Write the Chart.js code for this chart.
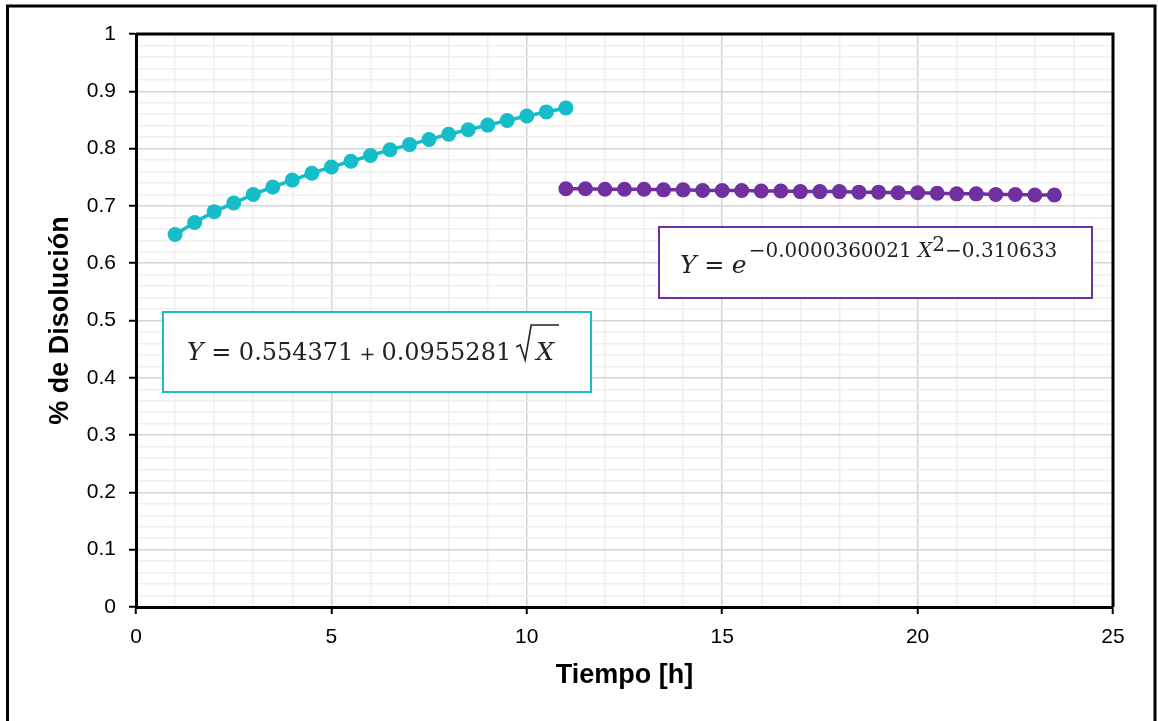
<!DOCTYPE html>
<html>
<head>
<meta charset="utf-8">
<script src="https://cdn.jsdelivr.net/npm/chart.js@4"></script>
<style>
  html, body { margin: 0; padding: 0; background: #fff; }
  canvas { display: block; }
</style>
</head>
<body>
<canvas id="grafico" width="1158" height="721"></canvas>
<script>
// Tiempo [h] y % de disolución, primera etapa
const tiempoA = [1, 1.5, 2, 2.5, 3, 3.5, 4, 4.5, 5, 5.5, 6, 6.5, 7, 7.5, 8, 8.5, 9, 9.5, 10, 10.5, 11];
const disolA = [0.650, 0.671, 0.690, 0.705, 0.720, 0.733, 0.745, 0.757, 0.768, 0.778, 0.788,
                0.798, 0.807, 0.816, 0.825, 0.833, 0.841, 0.849, 0.857, 0.864, 0.871];

// segunda etapa
const tiempoB = [11, 11.5, 12, 12.5, 13, 13.5, 14, 14.5, 15, 15.5, 16, 16.5, 17, 17.5,
                 18, 18.5, 19, 19.5, 20, 20.5, 21, 21.5, 22, 22.5, 23, 23.5];
const disolB = [0.730, 0.730, 0.729, 0.729, 0.729, 0.728, 0.728, 0.727, 0.727, 0.727, 0.726,
                0.726, 0.725, 0.725, 0.725, 0.724, 0.724, 0.723, 0.723, 0.722, 0.721, 0.721,
                0.720, 0.720, 0.719, 0.719];

const xTicks = [0, 5, 10, 15, 20, 25];
const yTicks = [0, 0.1, 0.2, 0.3, 0.4, 0.5, 0.6, 0.7, 0.8, 0.9, 1];

const TEAL = '#15bdc9';
const PURPLE = '#7030a0';

const isMajor = (v, list) => list.some(t => Math.abs(t - v) < 1e-6);

// marco exterior, borde del área de trazado y cuadros de ecuaciones
const extras = {
    id: 'extras',
    beforeDraw(chart) {
        const ctx = chart.ctx;
        ctx.save();
        ctx.strokeStyle = '#000';
        ctx.lineWidth = 3;
        ctx.beginPath();
        ctx.moveTo(7.5, 730);
        ctx.lineTo(7.5, 6);
        ctx.lineTo(1155, 6);
        ctx.lineTo(1155, 730);
        ctx.stroke();
        ctx.restore();
    },
    afterDatasetsDraw(chart) {
        const { ctx, chartArea: a } = chart;
        ctx.save();
        ctx.strokeStyle = '#000';
        ctx.lineWidth = 3;
        ctx.beginPath();
        ctx.moveTo(a.left, a.top);
        ctx.lineTo(a.right, a.top);
        ctx.lineTo(a.right, a.bottom);
        ctx.stroke();

        drawBox(ctx, 163, 312, 428, 80, TEAL);
        drawBox(ctx, 659, 227, 433, 71, PURPLE);

        ctx.fillStyle = '#222';
        ctx.textBaseline = 'alphabetic';
        const serif = '"DejaVu Serif", serif';

        // Y = 0.554371 + 0.0955281 √X
        let x = runs(ctx, 187, 360, [
            { t: 'Y', f: 'italic 25px ' + serif },
            { t: ' = ', f: '24px ' + serif },
            { t: '0.554371', f: '24px ' + serif },
            { t: ' + ', f: '19px ' + serif },
            { t: '0.0955281', f: '24px ' + serif, gap: 5 },
        ]);
        ctx.font = 'italic 25px ' + serif;
        const wX = ctx.measureText('X').width;
        ctx.strokeStyle = '#222';
        ctx.lineWidth = 1.6;
        ctx.beginPath();
        ctx.moveTo(x, 347);
        ctx.lineTo(x + 4, 345);
        ctx.lineTo(x + 9, 360);
        ctx.lineTo(x + 15, 325);
        ctx.lineTo(x + 21 + wX + 4, 325);
        ctx.stroke();
        ctx.fillText('X', x + 20, 360);

        // Y = e^(-0.0000360021 X^2 - 0.310633)
        x = runs(ctx, 680, 273, [
            { t: 'Y', f: 'italic 25px ' + serif },
            { t: ' = ', f: '24px ' + serif },
            { t: 'e', f: 'italic 25px ' + serif },
        ]);
        runs(ctx, x + 2, 257, [
            { t: '\u22120.0000360021 ', f: '20px ' + serif },
            { t: 'X', f: 'italic 20px ' + serif },
            { t: '2', f: '20px ' + serif, dy: -6 },
            { t: '\u22120.310633', f: '20px ' + serif },
        ]);
        ctx.restore();
    }
};

function drawBox(ctx, x, y, w, h, color) {
    ctx.fillStyle = '#fff';
    ctx.fillRect(x, y, w, h);
    ctx.strokeStyle = color;
    ctx.lineWidth = 2;
    ctx.strokeRect(x, y, w, h);
}

function runs(ctx, x, y, parts) {
    for (const p of parts) {
        ctx.font = p.f;
        ctx.fillText(p.t, x, y + (p.dy || 0));
        x += ctx.measureText(p.t).width + (p.gap || 0);
    }
    return x;
}

const tickFont = { family: '"Liberation Sans", Arial, sans-serif', size: 21 };
const titleFont = { family: '"Liberation Sans", Arial, sans-serif', size: 27, weight: 'bold', lineHeight: 1.2 };

new Chart(document.getElementById('grafico'), {
    type: 'scatter',
    data: {
        datasets: [
            {
                data: tiempoA.map((t, i) => ({ x: t, y: disolA[i] })),
                showLine: true,
                borderColor: TEAL,
                backgroundColor: TEAL,
                borderWidth: 3.5,
                pointRadius: 7.5,
                pointBorderWidth: 0,
                pointBackgroundColor: TEAL,
            },
            {
                data: tiempoB.map((t, i) => ({ x: t, y: disolB[i] })),
                showLine: true,
                borderColor: PURPLE,
                backgroundColor: PURPLE,
                borderWidth: 3.5,
                pointRadius: 7.5,
                pointBorderWidth: 0,
                pointBackgroundColor: PURPLE,
            }
        ]
    },
    options: {
        responsive: false,
        animation: false,
        devicePixelRatio: 1,
        layout: { padding: { top: 34, right: 45, left: 0, bottom: 0 } },
        plugins: {
            legend: { display: false },
            tooltip: { enabled: false },
        },
        scales: {
            x: {
                type: 'linear',
                min: 0,
                max: 25,
                afterFit(scale) { scale.height = 114; },
                border: { color: '#000', width: 3 },
                grid: {
                    color: c => isMajor(c.tick.value, xTicks) ? '#d4d4d4' : '#efefef',
                    lineWidth: 1.5,
                    tickLength: 7,
                    tickWidth: 2,
                    tickColor: c => isMajor(c.tick.value, xTicks) ? '#000' : 'rgba(0,0,0,0)',
                },
                ticks: {
                    stepSize: 1,
                    autoSkip: false,
                    maxTicksLimit: 100,
                    maxRotation: 0,
                    padding: 11,
                    color: '#000',
                    font: tickFont,
                    callback: v => isMajor(v, xTicks) ? String(v) : '',
                },
                title: {
                    display: true,
                    text: 'Tiempo [h]',
                    color: '#000',
                    font: titleFont,
                    padding: { top: 0, bottom: 29 },
                },
            },
            y: {
                min: 0,
                max: 1,
                afterFit(scale) { scale.width = 136; },
                border: { color: '#000', width: 3 },
                grid: {
                    color: c => isMajor(c.tick.value, yTicks) ? '#d4d4d4' : '#efefef',
                    lineWidth: 1.5,
                    tickLength: 7,
                    tickWidth: 2,
                    tickColor: c => isMajor(c.tick.value, yTicks) ? '#000' : 'rgba(0,0,0,0)',
                },
                ticks: {
                    stepSize: 0.02,
                    autoSkip: false,
                    maxTicksLimit: 100,
                    padding: 13,
                    color: '#000',
                    font: tickFont,
                    callback: v => isMajor(v, yTicks) ? String(Math.round(v * 10) / 10) : '',
                },
                title: {
                    display: true,
                    text: '% de Disolución',
                    color: '#000',
                    font: titleFont,
                    padding: { top: 44, bottom: 0 },
                },
            }
        }
    },
    plugins: [extras]
});
</script>
</body>
</html>
